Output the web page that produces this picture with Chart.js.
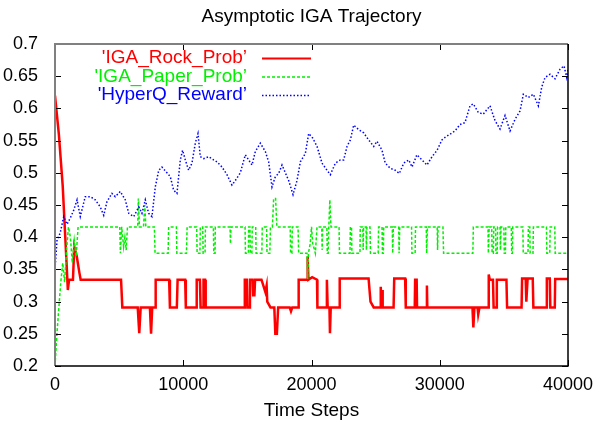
<!DOCTYPE html>
<html>
<head>
<meta charset="utf-8">
<script src="https://cdn.jsdelivr.net/npm/chart.js@4/dist/chart.umd.min.js"></script>
<style>
html,body{margin:0;padding:0;background:#fff;}
</style>
</head>
<body>
<canvas id="iga_trayectoria" width="603" height="424"></canvas>
<script>
var chartTitle = "Asymptotic IGA Trajectory";
var xAxisTitle = "Time Steps";
var seriesLabels = ["'IGA_Rock_Prob\u2019", "'IGA_Paper_Prob\u2019", "'HyperQ_Reward\u2019"];
var xTicks = [0, 10000, 20000, 30000, 40000];
var yTicks = [0.2, 0.25, 0.3, 0.35, 0.4, 0.45, 0.5, 0.55, 0.6, 0.65, 0.7];

var rockSteps = [0,300,600,900,1000,1100,1400,1500,1700,1900,2000,5150,5250,6450,6570,6680,7400,7490,7580,7800,7850,8900,8960,9500,9560,10150,10200,11000,11050,11300,11350,11550,11580,11700,11750,14780,14800,14950,15000,15150,15200,15400,15450,15550,15600,16100,16400,16500,16550,16800,17100,17180,17300,17400,18300,18400,18500,18950,19000,19650,19700,19760,20050,20430,20460,21150,21200,21260,21400,21440,21500,22150,22200,24450,24600,24850,25350,25400,25450,25500,25550,26400,26450,27300,27350,28050,28080,28200,28230,28980,29000,29030,32550,32620,32700,32950,33000,33100,33780,33820,33900,34150,34200,34420,34450,35200,35250,36380,36420,36700,36750,36850,37250,37300,38320,38350,38580,38620,38970,39000,40000];
var rockProb = [0.62,0.56,0.48,0.36,0.318,0.334,0.334,0.385,0.37,0.345,0.334,0.334,0.291,0.291,0.251,0.291,0.291,0.25,0.291,0.291,0.334,0.334,0.291,0.291,0.334,0.334,0.291,0.291,0.334,0.334,0.291,0.291,0.334,0.334,0.291,0.291,0.334,0.334,0.291,0.291,0.334,0.334,0.31,0.31,0.334,0.334,0.315,0.325,0.30,0.291,0.291,0.25,0.25,0.291,0.291,0.285,0.291,0.291,0.334,0.334,0.37,0.334,0.338,0.334,0.291,0.291,0.334,0.291,0.291,0.251,0.291,0.291,0.336,0.336,0.30,0.291,0.291,0.323,0.291,0.318,0.291,0.291,0.336,0.336,0.291,0.291,0.334,0.334,0.291,0.291,0.325,0.291,0.291,0.26,0.291,0.291,0.28,0.291,0.291,0.342,0.334,0.334,0.291,0.291,0.334,0.334,0.291,0.291,0.336,0.336,0.30,0.336,0.336,0.291,0.291,0.336,0.336,0.291,0.291,0.335,0.335];

var paperSteps = [0,150,300,450,600,750,900,1050,1200,1350,1500,1650,1800,5050,5100,5200,5350,5450,5550,5650,6450,6500,6580,6900,7000,7080,7750,7800,8820,8860,9470,9500,10250,10300,11050,11080,11300,11330,11520,11550,11700,11730,12350,12380,12480,12500,13650,13680,13720,14820,14850,15080,15100,15200,15230,15350,15380,15650,15680,16130,16160,16500,16530,16750,16800,16950,17050,17200,17300,18340,18370,18470,18500,18950,19000,19650,19700,19760,19900,20000,20100,20300,20430,20800,20830,20870,21200,21230,21300,21350,21430,21520,22150,22180,23000,23030,23120,23150,23780,23800,24000,24030,24060,24250,24280,24320,24560,24600,25200,25230,25500,25530,25600,25630,26300,26330,26380,26800,26830,26880,27800,27830,28080,28110,28950,28980,29040,29800,29830,29870,30250,30300,32580,32620,33760,33790,33850,34050,34080,34180,34210,34350,34380,34480,34510,34700,34730,34780,35000,35030,35120,35150,35580,35610,35660,35690,36480,36510,36880,36910,37020,37050,37270,37300,38320,38350,38580,38610,38970,39000,40000];
var paperProb = [0.2,0.25,0.29,0.33,0.36,0.33,0.38,0.416,0.40,0.36,0.395,0.37,0.416,0.416,0.375,0.416,0.385,0.40,0.38,0.416,0.416,0.46,0.416,0.416,0.45,0.416,0.416,0.375,0.375,0.416,0.416,0.375,0.375,0.416,0.416,0.375,0.375,0.416,0.416,0.375,0.375,0.416,0.416,0.375,0.375,0.416,0.416,0.39,0.416,0.416,0.375,0.375,0.416,0.416,0.375,0.375,0.416,0.416,0.375,0.375,0.416,0.416,0.375,0.375,0.416,0.416,0.46,0.46,0.416,0.416,0.375,0.375,0.416,0.416,0.375,0.375,0.335,0.375,0.39,0.416,0.39,0.375,0.416,0.416,0.38,0.416,0.416,0.375,0.375,0.416,0.458,0.416,0.416,0.375,0.375,0.416,0.416,0.375,0.375,0.416,0.416,0.38,0.416,0.416,0.38,0.416,0.416,0.375,0.375,0.416,0.416,0.375,0.375,0.416,0.416,0.375,0.416,0.416,0.375,0.416,0.416,0.375,0.375,0.416,0.416,0.375,0.416,0.416,0.38,0.416,0.416,0.375,0.375,0.416,0.416,0.375,0.416,0.416,0.375,0.375,0.416,0.416,0.375,0.375,0.416,0.416,0.38,0.416,0.416,0.375,0.375,0.416,0.416,0.375,0.375,0.416,0.416,0.375,0.375,0.416,0.416,0.375,0.375,0.416,0.416,0.375,0.375,0.416,0.416,0.375,0.375];

var rewardSteps = [0,160,400,680,940,1200,1460,1720,1970,2360,2750,3140,3530,3800,4050,4440,4700,5090,5480,5750,6140,6530,6780,7040,7300,7560,7820,8090,8340,8730,8990,9250,9510,9770,9950,10160,10420,10680,10940,11150,11330,11590,11980,12370,12630,13020,13410,13800,14060,14450,14840,15100,15360,15620,16010,16400,16660,16920,17180,17440,17700,17960,18220,18560,18870,19130,19520,19780,20090,20430,20820,21210,21470,21860,22250,22510,22770,23030,23290,23680,24070,24460,24850,25110,25500,25750,26140,26530,26850,27190,27580,27840,28220,28610,29000,29400,29790,30170,30410,30800,31190,31580,31970,32360,32620,33000,33390,33920,34310,34700,35090,35480,35870,36260,36520,36910,37300,37690,37950,38210,38600,38990,39380,39690,39900,40000];
var rewardVal = [0.35,0.396,0.406,0.432,0.42,0.43,0.442,0.458,0.432,0.463,0.463,0.458,0.447,0.434,0.455,0.468,0.463,0.471,0.458,0.437,0.432,0.447,0.437,0.458,0.437,0.432,0.478,0.504,0.509,0.50,0.494,0.473,0.468,0.52,0.535,0.52,0.504,0.515,0.546,0.561,0.525,0.522,0.525,0.52,0.517,0.509,0.497,0.481,0.488,0.50,0.528,0.52,0.512,0.533,0.546,0.533,0.517,0.478,0.494,0.499,0.512,0.50,0.488,0.466,0.488,0.517,0.530,0.561,0.554,0.541,0.515,0.504,0.497,0.515,0.52,0.52,0.541,0.551,0.574,0.567,0.562,0.551,0.541,0.549,0.535,0.515,0.507,0.504,0.499,0.515,0.52,0.509,0.528,0.52,0.512,0.525,0.535,0.551,0.555,0.560,0.565,0.575,0.578,0.604,0.607,0.594,0.591,0.604,0.581,0.568,0.589,0.565,0.583,0.596,0.622,0.617,0.622,0.604,0.633,0.648,0.653,0.646,0.661,0.666,0.648,0.66];

var FONT = "'Liberation Sans', Arial, Helvetica, sans-serif";

function iga_puntos(steps, vals){
	var pts = [];
	for(var i=0;i<steps.length;i++){
		pts.push({x: steps[i], y: vals[i]});
	}
	return pts;
}

// gnuplot style: ticks pointing inwards on all four sides + legend at top left
var iga_decor = {
	id: 'iga_decor',
	afterDatasetsDraw: function(chart){
		var ctx = chart.ctx;
		var a = chart.chartArea;
		var sx = chart.scales.x, sy = chart.scales.y;
		ctx.save();
		ctx.strokeStyle = '#000';
		ctx.lineWidth = 1;
		ctx.beginPath();
		xTicks.forEach(function(v){
			var px = Math.round(sx.getPixelForValue(v)) + 0.5;
			ctx.moveTo(px, a.bottom); ctx.lineTo(px, a.bottom - 6);
			ctx.moveTo(px, a.top); ctx.lineTo(px, a.top + 6);
		});
		yTicks.forEach(function(v){
			var py = Math.round(sy.getPixelForValue(v)) + 0.5;
			ctx.moveTo(a.left, py); ctx.lineTo(a.left + 6, py);
			ctx.moveTo(a.right, py); ctx.lineTo(a.right - 6, py);
		});
		ctx.stroke();

		// frame
		ctx.lineWidth = 2;
		ctx.strokeStyle = '#808080';
		ctx.beginPath();
		ctx.moveTo(a.left, a.bottom); ctx.lineTo(a.left, a.top); ctx.lineTo(a.right, a.top);
		ctx.stroke();
		ctx.lineWidth = 1.5;
		ctx.strokeStyle = '#000';
		ctx.beginPath();
		ctx.moveTo(a.right, a.top); ctx.lineTo(a.right, a.bottom); ctx.lineTo(a.left, a.bottom);
		ctx.stroke();

		// legend
		ctx.font = '19px ' + FONT;
		ctx.textAlign = 'right';
		ctx.textBaseline = 'middle';
		chart.data.datasets.forEach(function(ds, i){
			var ly = 58 + i * 18.5;
			ctx.fillStyle = ds.borderColor;
			ctx.fillText(ds.label, 247, ly);
			ctx.strokeStyle = ds.borderColor;
			ctx.lineWidth = Math.min(ds.borderWidth, 2);
			ctx.setLineDash(ds.borderDash || []);
			ctx.beginPath();
			ctx.moveTo(262, ly + 0.5); ctx.lineTo(311, ly + 0.5);
			ctx.stroke();
			ctx.setLineDash([]);
		});
		ctx.restore();
	}
};

var tickFont = {family: FONT, size: 18};

new Chart(document.getElementById('iga_trayectoria'), {
	type: 'line',
	data: {
		datasets: [{
			label: seriesLabels[0],
			data: iga_puntos(rockSteps, rockProb),
			borderColor: '#ff0000',
			borderWidth: 2.5,
			order: 3
		},{
			label: seriesLabels[1],
			data: iga_puntos(paperSteps, paperProb),
			borderColor: '#00f000',
			borderWidth: 1.5,
			borderDash: [3, 2],
			order: 2
		},{
			label: seriesLabels[2],
			data: iga_puntos(rewardSteps, rewardVal),
			borderColor: '#0000ff',
			borderWidth: 1.5,
			borderDash: [1.5, 2],
			order: 1
		}]
	},
	options: {
		responsive: false,
		animation: false,
		devicePixelRatio: 1,
		elements: {point: {radius: 0}, line: {tension: 0}},
		layout: {padding: {top: 0, right: 35, bottom: 0, left: 0}},
		plugins: {
			legend: {display: false},
			tooltip: {enabled: false},
			title: {
				display: true,
				text: chartTitle,
				color: '#000',
				fullSize: false,
				font: {family: FONT, size: 19, weight: 'normal', lineHeight: 1.2},
				padding: {top: 5, bottom: 16.2}
			}
		},
		scales: {
			x: {
				type: 'linear',
				min: 0,
				max: 40000,
				afterFit: function(s){ s.height = 58; },
				afterBuildTicks: function(s){ s.ticks = xTicks.map(function(v){ return {value: v}; }); },
				ticks: {color: '#000', font: tickFont, padding: 0, maxRotation: 0,
					callback: function(v){ return String(v); }},
				grid: {display: false},
				border: {display: false},
				title: {display: true, text: xAxisTitle, color: '#000',
					font: {family: FONT, size: 19, lineHeight: 1.2}, padding: {top: 2, bottom: 2}}
			},
			y: {
				min: 0.2,
				max: 0.7,
				afterFit: function(s){ s.width = 55; },
				afterBuildTicks: function(s){ s.ticks = yTicks.map(function(v){ return {value: v}; }); },
				ticks: {color: '#000', font: tickFont, padding: 9,
					callback: function(v){ return String(+v.toFixed(2)); }},
				grid: {display: false},
				border: {display: false}
			}
		}
	},
	plugins: [iga_decor]
});
</script>
</body>
</html>
